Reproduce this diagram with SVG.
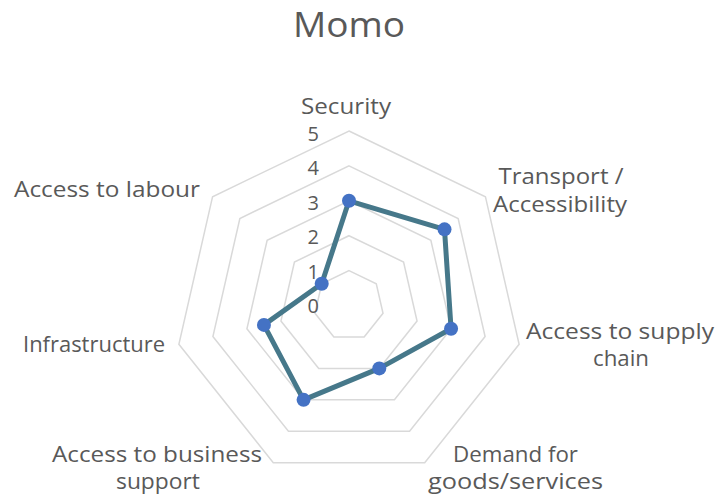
<svg xmlns="http://www.w3.org/2000/svg" width="718" height="498" viewBox="0 0 718 498">
<style>
.grid{fill:none;stroke:#D9D9D9;stroke-width:1.5;stroke-linejoin:miter}
.t{font-family:"Open Sans","Liberation Sans",sans-serif;fill:#595959;font-size:21px}
.tick{font-family:"Open Sans","Liberation Sans",sans-serif;fill:#595959;font-size:20px;text-anchor:end}
.lbl{text-anchor:middle}
.series{fill:none;stroke:#46788A;stroke-width:5;stroke-linejoin:round}
.dot{fill:#4472C4}
</style>
<rect width="718" height="498" fill="#FFFFFF"/>
<text id="title" class="t" x="349" y="37" text-anchor="middle" style="font-size:35px" textLength="112" lengthAdjust="spacingAndGlyphs">Momo</text>
<g id="grid">
<polygon class="grid" points="349,270.6 376.29,283.74 383.02,313.27 364.14,336.94 333.86,336.94 314.98,313.27 321.71,283.74"/>
<polygon class="grid" points="349,235.7 403.57,261.98 417.05,321.03 379.29,368.39 318.71,368.39 280.95,321.03 294.43,261.98"/>
<polygon class="grid" points="349,200.8 430.86,240.22 451.07,328.8 394.43,399.83 303.57,399.83 246.93,328.8 267.14,240.22"/>
<polygon class="grid" points="349,165.9 458.14,218.46 485.1,336.56 409.57,431.28 288.43,431.28 212.9,336.56 239.86,218.46"/>
<polygon class="grid" points="349,131 485.43,196.7 519.12,344.33 424.71,462.72 273.29,462.72 178.88,344.33 212.57,196.7"/>
</g>
<g id="ticks">
<text class="tick" x="319" y="313">0</text>
<text class="tick" x="319" y="278.5">1</text>
<text class="tick" x="319" y="244">2</text>
<text class="tick" x="319" y="209.5">3</text>
<text class="tick" x="319" y="175">4</text>
<text class="tick" x="319" y="140.5">5</text>
</g>
<g id="connectors">
<polygon class="series" points="349,200.8 444.5,229.34 451.07,328.8 379.29,368.39 303.57,399.83 263.94,324.91 321.71,283.74"/>
</g>
<g id="markers">
<circle class="dot" cx="349" cy="200.8" r="7"/>
<circle class="dot" cx="444.5" cy="229.34" r="7"/>
<circle class="dot" cx="451.07" cy="328.8" r="7"/>
<circle class="dot" cx="379.29" cy="368.39" r="7"/>
<circle class="dot" cx="303.57" cy="399.83" r="7"/>
<circle class="dot" cx="263.94" cy="324.91" r="7"/>
<circle class="dot" cx="321.71" cy="283.74" r="7"/>
</g>
<g id="node-security"><text class="t lbl" x="346" y="114" textLength="90" lengthAdjust="spacingAndGlyphs">Security</text></g>
<g id="node-transport"><text class="t lbl" x="561" y="184" textLength="125" lengthAdjust="spacingAndGlyphs">Transport /</text><text class="t lbl" x="560" y="212" textLength="134" lengthAdjust="spacingAndGlyphs">Accessibility</text></g>
<g id="node-supply"><text class="t lbl" x="620" y="339" textLength="188" lengthAdjust="spacingAndGlyphs">Access to supply</text><text class="t lbl" x="621" y="366" textLength="56" lengthAdjust="spacingAndGlyphs">chain</text></g>
<g id="node-demand"><text class="t lbl" x="515.5" y="462" textLength="125" lengthAdjust="spacingAndGlyphs">Demand for</text><text class="t lbl" x="515.5" y="489" textLength="175" lengthAdjust="spacingAndGlyphs">goods/services</text></g>
<g id="node-business"><text class="t lbl" x="157" y="462" textLength="210" lengthAdjust="spacingAndGlyphs">Access to business</text><text class="t lbl" x="158" y="489" textLength="84" lengthAdjust="spacingAndGlyphs">support</text></g>
<g id="node-infrastructure"><text class="t lbl" x="94" y="352" textLength="142" lengthAdjust="spacingAndGlyphs">Infrastructure</text></g>
<g id="node-labour"><text class="t lbl" x="107" y="197" textLength="186" lengthAdjust="spacingAndGlyphs">Access to labour</text></g>
</svg>
